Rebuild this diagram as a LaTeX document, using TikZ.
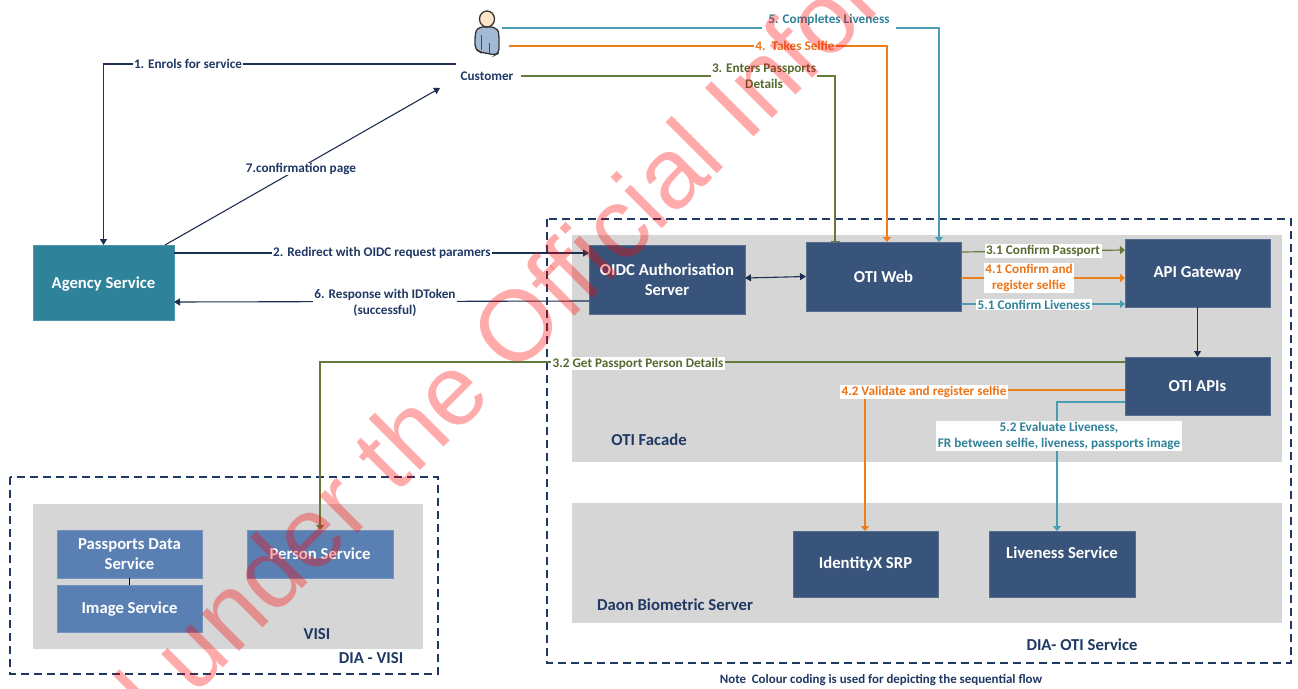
\documentclass[tikz,border=0pt]{standalone}
\usepackage{fontspec}
\setmainfont{Carlito}
\newfontfamily\wmfont{Liberation Sans}
\usetikzlibrary{arrows.meta,calc}
\definecolor{navytxt}{HTML}{1F3864}
\definecolor{darkbox}{HTML}{38547A}
\definecolor{midbox}{HTML}{5A80B3}
\definecolor{tealbox}{HTML}{2E8299}
\definecolor{graybg}{HTML}{D6D6D6}
\definecolor{tealline}{HTML}{4A9DB0}
\definecolor{tealtxt}{HTML}{2F8299}
\definecolor{orline}{HTML}{EE7D1C}
\definecolor{ortxt}{HTML}{EC7316}
\definecolor{olline}{HTML}{66793C}
\definecolor{oltxt}{HTML}{56692F}
\definecolor{navyline}{HTML}{1D2F4F}
\tikzset{
  x=1pt,y=-1pt,
  every node/.style={font=\bfseries\fontsize{13.2}{16}\selectfont,inner sep=0pt,outer sep=0pt,align=center},
  graypanel/.style={fill=graybg},
  dashbox/.style={draw=navytxt,line width=1.1pt,dash pattern=on 8pt off 5pt},
  darknode/.style={draw=darkbox!85!white,line width=.5pt,fill=darkbox,text=white,font=\bfseries\fontsize{16.7}{20}\selectfont},
  midnode/.style={draw=midbox!85!white,line width=.5pt,fill=midbox,text=white,font=\bfseries\fontsize{16.7}{20}\selectfont},
  tealnode/.style={draw=tealbox!85!white,line width=.5pt,fill=tealbox,text=white,font=\bfseries\fontsize{16.7}{20}\selectfont},
  panelhead/.style={text=navytxt,font=\bfseries\fontsize{16.7}{20}\selectfont},
  navyflow/.style={draw=navyline,line width=1.1pt,-{Triangle[width=7pt,length=6pt]}},
  tealflow/.style={draw=tealline,line width=1.2pt,-{Triangle[width=8pt,length=5pt]}},
  orflow/.style={draw=orline,line width=1.2pt,-{Triangle[width=8pt,length=5pt]}},
  olflow/.style={draw=olline,line width=1.2pt,-{Triangle[width=8pt,length=5pt]}},
  navylbl/.style={fill=white,text=navytxt,inner xsep=1pt,inner ysep=.5pt},
  teallbl/.style={fill=white,text=tealtxt,inner xsep=1.5pt,inner ysep=1pt},
  orlbl/.style={fill=white,text=ortxt,inner xsep=1.5pt,inner ysep=1pt},
  ollbl/.style={fill=white,text=oltxt,inner xsep=1.5pt,inner ysep=1pt},
  watermark/.style={text=red,opacity=.33,font=\wmfont\fontsize{100}{100}\selectfont,rotate=45,anchor=base west,align=left},
}
\begin{document}
\begin{tikzpicture}
\path[use as bounding box,fill=white] (0,0) rectangle (1298,688);
\clip (0,0) rectangle (1298,688);
% panels
\fill[graypanel] (572,235) rectangle (1282,462);
\fill[graypanel] (572,503) rectangle (1282,623);
\fill[graypanel] (33,504) rectangle (423,649);
\draw[dashbox] (547,219) rectangle (1291,663);
\draw[dashbox] (10,477) rectangle (438,674);
% boxes
\node[tealnode,minimum width=141pt,minimum height=75pt] (agency) at (103.5,282.5) {\raisebox{-5.5pt}[0pt][0pt]{Agency Service}};
\node[darknode,minimum width=156pt,minimum height=69pt] (oidc) at (667,279.5) {OIDC Authorisation\\Server};
\node[darknode,minimum width=155pt,minimum height=69pt] (web) at (883.5,276.5) {OTI Web};
\node[darknode,minimum width=145pt,minimum height=68pt] (gw) at (1197.5,273) {\raisebox{-4pt}[0pt][0pt]{API Gateway}};
\node[darknode,minimum width=145pt,minimum height=58pt] (apis) at (1197.5,386) {OTI APIs};
\node[darknode,minimum width=145pt,minimum height=66pt] (srp) at (865.5,564) {\raisebox{-4pt}[0pt][0pt]{IdentityX SRP}};
\node[darknode,minimum width=146pt,minimum height=66pt] (live) at (1062,564) {\raisebox{5.5pt}[0pt][0pt]{Liveness Service}};
\node[midnode,minimum width=145pt,minimum height=48pt] (pds) at (129.5,554) {Passports Data\\Service};
\node[midnode,minimum width=145pt,minimum height=47pt] (img) at (129.5,608.5) {\raisebox{-4.5pt}[0pt][0pt]{Image Service}};
\node[midnode,minimum width=146pt,minimum height=48pt] (person) at (320,554) {Person Service};
% customer
\node[text=navytxt] (cust) at (487,76) {Customer};
\draw[black!80,line width=1.3pt,fill=midbox!55!white,rounded corners=4pt] (475,49) -- (475,35) .. controls (477,28) and (482,27) .. (487,27) .. controls (493,27) and (498,29) .. (499,36) -- (499,53) -- (495,55) -- (480,52) -- cycle;
\draw[midbox!60!black,line width=.7pt] (489,43) -- (489,54) (481,35) -- (481,50);
\draw[black!80,line width=1.3pt,fill=orange!22!white] (487,19) ellipse (7.5pt and 8pt);
\coordinate (s5) at (502,28);
\coordinate (s4) at (509,46);
\coordinate (s3) at (521,76);
\coordinate (s1) at (456,64);
\coordinate (e7) at (440,88);
\coordinate (t5) at (939,0);
\coordinate (t4) at (887,0);
\coordinate (t3) at (835,0);
% connectors
\draw[tealflow] (s5) -| (t5 |- web.north);
\draw[orflow] (s4) -| (t4 |- web.north);
\draw[draw=olline,line width=1.2pt,-{Bar[width=9pt,line width=.9pt]}] (s3) -| (t3 |- web.north);
\draw[navyflow] (s1) -| (agency.north);
\draw[navyflow] ($(agency.north east)+(-9,0)$) -- (e7);
\draw[navyflow] ($(agency.north east)+(0,8)$) -- ($(oidc.north west)+(0,8)$);
\draw[navyflow] ($(oidc.south west)+(0,-13)$) -- ($(agency.south east)+(0,-18)$);
\draw[navyline,line width=1.1pt,{Triangle[width=7pt,length=6pt]}-{Triangle[width=7pt,length=6pt]}] (oidc.east) ++(0,-1.5) -- (web.west);
\draw[olflow] ($(web.north east)+(0,10)$) -- ($(gw.north west)+(0,11)$);
\draw[orflow] ($(web.north east)+(0,36)$) -- ($(gw.north west)+(0,39)$);
\draw[tealflow] ($(web.south east)+(0,-7)$) -- ($(gw.south west)+(0,-3)$);
\draw[navyflow] (gw.south) -- (apis.north);
\coordinate (c32) at (320,0);
\coordinate (c42) at (865,0);
\coordinate (c52) at (1057,0);
\draw[olflow] ($(apis.north west)+(0,5)$) -| (c32 |- person.north);
\draw[orflow] ($(apis.north west)+(0,33)$) -| (c42 |- srp.north);
\draw[tealflow] ($(apis.north west)+(0,45)$) -| (c52 |- live.north);
\draw[black,line width=1.1pt] (pds.south) -- (img.north);
% labels
\node[navylbl] (l1) at (188,64) {1. Enrols for service};
\node[navylbl] (l7) at (301,169) {7.confirmation page};
\node[navylbl] (l2) at (382,253) {2. Redirect with OIDC request paramers};
\node[navylbl] (l6) at (385,303) {6. Response with IDToken\\(successful)};
\node[teallbl,inner xsep=6pt,inner ysep=3pt] (l5) at (829,20) {5. Completes Liveness};
\node[orlbl] (l4) at (795,46) {4.\ \ Takes Selfie};
\node[ollbl] (l3) at (764,76) {3. Enters Passports\\Details};
\node[ollbl] (l31) at (1043,251) {3.1 Confirm Passport};
\node[orlbl] (l41) at (1029,278) {4.1 Confirm and\\register selfie};
\node[teallbl] (l51) at (1034,304.5) {5.1 Confirm Liveness};
\node[ollbl] (l32) at (638,363.5) {3.2 Get Passport Person Details};
\node[orlbl] (l42) at (924,392) {4.2 Validate and register selfie};
\node[teallbl] (l52) at (1059,436) {5.2 Evaluate Liveness,\\FR between selfie, liveness, passports image};
\node[panelhead] (facade) at (649,440) {OTI Facade};
\node[panelhead] (daon) at (675,605) {Daon Biometric Server};
\node[panelhead] (visi) at (317,634) {VISI};
\node[panelhead] (divisi) at (371,658) {DIA - VISI};
\node[panelhead] (dioti) at (1082,645) {DIA- OTI Service};
\node[text=navytxt,font=\bfseries\fontsize{12.9}{15}\selectfont] (note) at (881,680) {Note\ \ Colour coding is used for depicting the sequential flow};
% watermark
\node[watermark] (wm) at (136,755) {d under the Official Infor};
\end{tikzpicture}
\end{document}
